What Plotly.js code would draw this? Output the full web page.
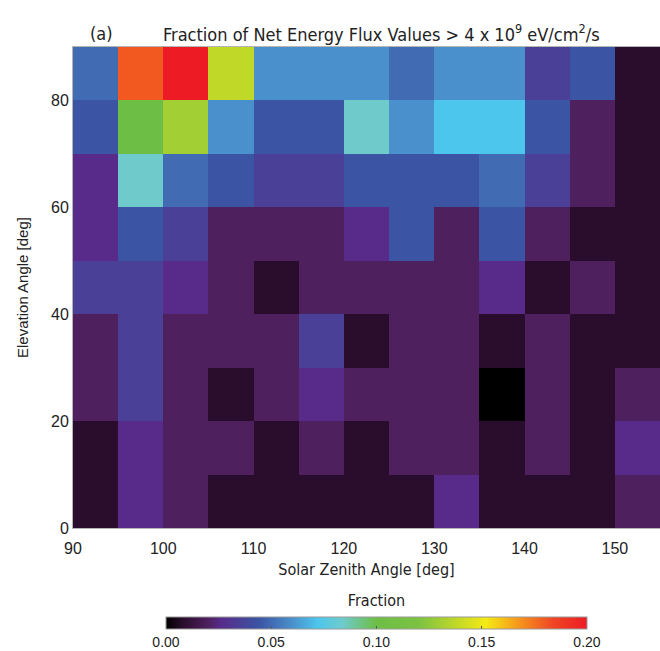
<!DOCTYPE html>
<html>
<head>
<meta charset="utf-8">
<script src="https://cdn.plot.ly/plotly-3.0.1.min.js"></script>
<style>
html,body{margin:0;padding:0;background:#fff;}
#chart{width:660px;height:651px;}
</style>
</head>
<body>
<div id="chart"></div>
<script>
// Bin edges
const szaEdges = [90, 95, 100, 105, 110, 115, 120, 125, 130, 135, 140, 145, 150, 155];
const elevEdges = [0, 10, 20, 30, 40, 50, 60, 70, 80, 90];
const xTicks = [90, 100, 110, 120, 130, 140, 150];
const yTicks = [0, 20, 40, 60, 80];
const cbTicks = [0, 0.05, 0.10, 0.15, 0.20];

// Fraction values per elevation bin (rows bottom->top), SZA bins left->right
const elev00_10 = [0.008, 0.026, 0.020, 0.008, 0.008, 0.008, 0.008, 0.008, 0.026, 0.008, 0.008, 0.008, 0.020];
const elev10_20 = [0.008, 0.026, 0.020, 0.020, 0.008, 0.020, 0.008, 0.020, 0.020, 0.008, 0.020, 0.008, 0.026];
const elev20_30 = [0.020, 0.035, 0.020, 0.008, 0.020, 0.026, 0.020, 0.020, 0.020, 0.000, 0.020, 0.008, 0.020];
const elev30_40 = [0.020, 0.035, 0.020, 0.020, 0.020, 0.035, 0.008, 0.020, 0.020, 0.008, 0.020, 0.008, 0.008];
const elev40_50 = [0.035, 0.035, 0.026, 0.020, 0.008, 0.020, 0.020, 0.020, 0.020, 0.026, 0.008, 0.020, 0.008];
const elev50_60 = [0.026, 0.044, 0.035, 0.020, 0.020, 0.020, 0.026, 0.044, 0.020, 0.044, 0.020, 0.008, 0.008];
const elev60_70 = [0.026, 0.084, 0.050, 0.044, 0.035, 0.035, 0.044, 0.044, 0.044, 0.050, 0.035, 0.020, 0.008];
const elev70_80 = [0.044, 0.100, 0.130, 0.060, 0.044, 0.044, 0.084, 0.060, 0.072, 0.072, 0.044, 0.020, 0.008];
const elev80_90 = [0.050, 0.180, 0.200, 0.138, 0.060, 0.060, 0.060, 0.050, 0.060, 0.060, 0.035, 0.044, 0.008];

const z = [elev00_10, elev10_20, elev20_30, elev30_40, elev40_50, elev50_60, elev60_70, elev70_80, elev80_90];

const colorscale = [
  [0.00, '#000000'],
  [0.04, '#2a0d2c'],
  [0.10, '#4e205e'],
  [0.13, '#582b8b'],
  [0.22, '#3b54a3'],
  [0.30, '#4a90cc'],
  [0.36, '#4cc6ec'],
  [0.42, '#6fcbcb'],
  [0.50, '#6dbe45'],
  [0.60, '#7cc242'],
  [0.76, '#f5ea14'],
  [0.84, '#f7941d'],
  [0.92, '#ef4523'],
  [1.00, '#ed1c24']
];

const sans = 'Liberation Sans, Arial, sans-serif';
const narrow = 'Liberation Sans Narrow, DejaVu Sans Condensed, Liberation Sans, sans-serif';

const trace = {
  type: 'heatmap',
  x: szaEdges,
  y: elevEdges,
  z: z,
  zmin: 0,
  zmax: 0.2,
  colorscale: colorscale,
  hoverinfo: 'x+y+z',
  colorbar: {
    orientation: 'h',
    x: 0.517,
    xanchor: 'center',
    xref: 'paper',
    lenmode: 'pixels',
    len: 421,
    thickness: 12,
    y: -0.1455,
    yanchor: 'top',
    ypad: 0,
    xpad: 0,
    outlinecolor: '#999',
    outlinewidth: 1,
    tickvals: cbTicks,
    tickformat: '.2f',
    ticks: 'inside',
    ticklen: 3,
    tickcolor: '#555',
    tickfont: {family: sans, size: 14, color: '#222'},
    title: {text: 'Fraction', side: 'top', font: {family: narrow, size: 16, color: '#222'}}
  }
};

const layout = {
  width: 660,
  height: 651,
  margin: {l: 73, r: 0, t: 47, b: 123, autoexpand: false},
  paper_bgcolor: '#fff',
  plot_bgcolor: '#fff',
  xaxis: {
    range: [90, 155],
    tickvals: xTicks,
    ticks: '',
    ticklabelstandoff: 6,
    showgrid: false,
    zeroline: false,
    showline: true,
    mirror: true,
    linecolor: '#b5b5b5',
    linewidth: 1,
    tickfont: {family: sans, size: 16, color: '#222'},
    title: {text: 'Solar Zenith Angle [deg]', font: {family: narrow, size: 16, color: '#222'}, standoff: 7}
  },
  yaxis: {
    range: [0, 90],
    tickvals: yTicks,
    ticks: '',
    showgrid: false,
    zeroline: false,
    showline: true,
    mirror: true,
    linecolor: '#b5b5b5',
    linewidth: 1,
    tickfont: {family: sans, size: 16, color: '#222'},
    title: {text: 'Elevation Angle [deg]', font: {family: sans, size: 15, color: '#222'}, standoff: 18}
  },
  annotations: [
    {text: '(a)', xref: 'paper', yref: 'paper', x: (101 - 73) / 587, y: 1, yshift: 14, xanchor: 'center', yanchor: 'middle', showarrow: false,
     font: {family: narrow, size: 18, color: '#222'}},
    {text: 'Fraction of Net Energy Flux Values > 4 x 10<sup>9</sup> eV/cm<sup>2</sup>/s', xref: 'paper', yref: 'paper',
     x: (381 - 73) / 587, y: 1, yshift: 14, xanchor: 'center', yanchor: 'middle', showarrow: false,
     font: {family: narrow, size: 18, color: '#222'}}
  ]
};

Plotly.newPlot('chart', [trace], layout, {displayModeBar: false, staticPlot: true});
</script>
</body>
</html>
